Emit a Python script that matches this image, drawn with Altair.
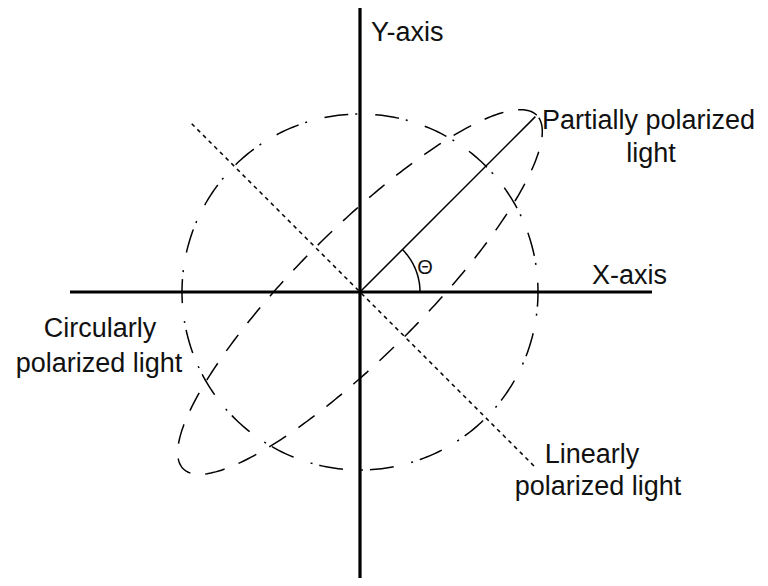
import numpy as np
import pandas as pd
import altair as alt

# ---- diagram parameters (pixel-like units, origin at centre, y up) ----
x_axis_ends = [-290, 292]          # horizontal axis extent
y_axis_ends = [291, -291]          # vertical axis extent
circle_radius = 178                # circularly polarized light
ellipse_axes = [250, 63]           # partially polarized light (semi-major, semi-minor)
ellipse_tilt = 45                  # degrees
linear_ends = [-238, 248]          # linearly polarized light, distance along -45 deg direction
partial_length = 248               # solid line along theta
theta_deg = 45
theta_arc_radius = 60

label_text = ["Y-axis", "X-axis", "Partially polarized", "light",
              "Circularly", "polarized light", "Linearly", "polarized light"]
label_x = [11, 232, 182, 291, -260, -261, 232, 238]
label_y = [251, 8, 163, 130, -45, -80, -171, -203]
label_align = ["left", "left", "left", "center", "center", "center", "center", "center"]

X = alt.Scale(domain=[-352, 400])
Y = alt.Scale(domain=[-286, 284])


def line_layer(df, dash=None, width=1.5):
    kw = dict(color="black", strokeWidth=width, clip=False, strokeCap="butt")
    if dash is not None:
        kw["strokeDash"] = dash
    return alt.Chart(df).mark_line(**kw).encode(
        x=alt.X("x:Q", scale=X, axis=None),
        y=alt.Y("y:Q", scale=Y, axis=None),
        order="i:Q",
    )


# axes
xaxis = pd.DataFrame({"x": x_axis_ends, "y": [0, 0], "i": [0, 1]})
yaxis = pd.DataFrame({"x": [0, 0], "y": y_axis_ends, "i": [0, 1]})

# circle (drawn clockwise)
t = np.deg2rad(np.arange(200, -161, -1))
circle = pd.DataFrame({"x": circle_radius * np.cos(t), "y": circle_radius * np.sin(t),
                       "i": np.arange(len(t))})

# ellipse
s = np.deg2rad(np.arange(0, 361, 1))
a, b = ellipse_axes
phi = np.deg2rad(ellipse_tilt)
ex = a * np.cos(s) * np.cos(phi) - b * np.sin(s) * np.sin(phi)
ey = a * np.cos(s) * np.sin(phi) + b * np.sin(s) * np.cos(phi)
ellipse = pd.DataFrame({"x": ex, "y": ey, "i": np.arange(len(s))})

# linear polarization line (-45 deg)
d = np.array(linear_ends) / np.sqrt(2)
linear = pd.DataFrame({"x": d, "y": -d, "i": [0, 1]})

# partial polarization solid line
th = np.deg2rad(theta_deg)
partial = pd.DataFrame({"x": [0, partial_length * np.cos(th)],
                        "y": [0, partial_length * np.sin(th)], "i": [0, 1]})

# theta arc
ta = np.deg2rad(np.arange(0, theta_deg + 1, 1))
arc = pd.DataFrame({"x": theta_arc_radius * np.cos(ta), "y": theta_arc_radius * np.sin(ta),
                    "i": np.arange(len(ta))})

labels = pd.DataFrame({"text": label_text, "x": label_x, "y": label_y, "align": label_align})

left_labels = alt.Chart(labels[labels["align"] == "left"]).mark_text(
    align="left", baseline="alphabetic", font="Liberation Sans", fontSize=27, color="#111"
).encode(x=alt.X("x:Q", scale=X, axis=None), y=alt.Y("y:Q", scale=Y, axis=None), text="text:N")

center_labels = alt.Chart(labels[labels["align"] == "center"]).mark_text(
    align="center", baseline="alphabetic", font="Liberation Sans", fontSize=27, color="#111"
).encode(x=alt.X("x:Q", scale=X, axis=None), y=alt.Y("y:Q", scale=Y, axis=None), text="text:N")

theta_df = pd.DataFrame({"text": ["Θ"], "x": [65], "y": [24]})
theta_label = alt.Chart(theta_df).mark_text(
    align="center", baseline="middle", font="Liberation Sans", fontSize=20, color="#111"
).encode(x=alt.X("x:Q", scale=X, axis=None), y=alt.Y("y:Q", scale=Y, axis=None), text="text:N")

chart = alt.layer(
    line_layer(circle, dash=[24, 7, 2, 18]),
    line_layer(ellipse, dash=[20, 15]),
    line_layer(linear, dash=[4, 4]),
    line_layer(partial),
    line_layer(arc),
    line_layer(xaxis, width=3.2),
    line_layer(yaxis, width=3.2),
    left_labels,
    center_labels,
    theta_label,
).properties(
    width=752, height=570,
    padding=0,
    autosize=alt.AutoSizeParams(type="none"),
    background="white",
).configure_view(stroke=None)

chart.save("out.html", embed_options={"renderer": "svg", "actions": False})
